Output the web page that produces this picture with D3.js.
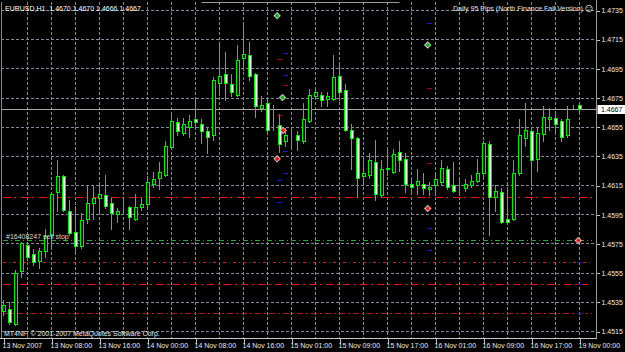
<!DOCTYPE html>
<html><head><meta charset="utf-8">
<script src="https://cdn.jsdelivr.net/npm/d3@7"></script>
<style>
html,body{margin:0;padding:0;background:#000;overflow:hidden}
svg{display:block}
text{font-family:"Liberation Sans",Arial,sans-serif;font-size:7px}
</style>
</head><body>
<svg id="c" width="625" height="352"></svg>
<script>
// ---------- data ----------
const symbolTitle = "EURUSD,H1  1.4670 1.4670 1.4666 1.4667";
const indicatorTitle = "Daily 95 Pips (North Finance Fall Version)";
const copyrightText = "MT4NF, \u00a9 2001-2007 MetaQuotes Software Corp.";
const orderLabel = "#16408247 sell stop";

const timeLabels = ["13 Nov 2007","13 Nov 08:00","13 Nov 16:00","14 Nov 00:00","14 Nov 08:00","14 Nov 16:00",
  "15 Nov 01:00","15 Nov 09:00","15 Nov 17:00","16 Nov 01:00","16 Nov 09:00","16 Nov 17:00","19 Nov 00:00"];
const timeLabelBars = [0,8,16,24,32,40,48,56,64,72,80,88,96];
const priceTicks = [1.4735,1.4715,1.4695,1.4675,1.4655,1.4635,1.4615,1.4595,1.4575,1.4555,1.4535,1.4515];

const opens  = [1.4529,1.4530,1.4520,1.4556,1.4574,1.4568,1.4563,1.4570,1.4581,1.4610,
  1.4621,1.4597,1.4583,1.4573,1.4592,1.4603,1.4606,1.4608,1.4603,1.4595,
  1.4598,1.4600,1.4592,1.4600,1.4602,1.4616,1.4620,1.4622,1.4641,1.4658,
  1.4651,1.4655,1.4660,1.4657,1.4652,1.4649,1.4685,1.4691,1.4684,1.4677,
  1.4702,1.4704,1.4691,1.4668,1.4671,1.4655,1.4656,1.4645,1.4650,1.4649,
  1.4645,1.4659,1.4676,1.4677,1.4674,1.4674,1.4690,1.4680,1.4653,1.4647,
  1.4621,1.4622,1.4631,1.4608,1.4626,1.4624,1.4638,1.4633,1.4616,1.4615,
  1.4616,1.4612,1.4615,1.4617,1.4626,1.4615,1.4612,1.4613,1.4615,1.4618,
  1.4623,1.4643,1.4607,1.4610,1.4592,1.4592,1.4623,1.4647,1.4652,1.4633,
  1.4650,1.4660,1.4661,1.4659,1.4649,1.4669,1.4670];
const highs  = [1.4536,1.4535,1.4557,1.4576,1.4576,1.4571,1.4572,1.4585,1.4610,1.4632,
  1.4622,1.4605,1.4601,1.4596,1.4615,1.4615,1.4616,1.4622,1.4606,1.4599,
  1.4607,1.4601,1.4609,1.4606,1.4621,1.4624,1.4631,1.4645,1.4664,1.4661,
  1.4661,1.4663,1.4673,1.4660,1.4655,1.4689,1.4713,1.4706,1.4691,1.4711,
  1.4725,1.4713,1.4692,1.4676,1.4673,1.4670,1.4664,1.4654,1.4654,1.4652,
  1.4671,1.4681,1.4681,1.4679,1.4679,1.4704,1.4697,1.4684,1.4657,1.4648,
  1.4633,1.4637,1.4646,1.4632,1.4641,1.4640,1.4645,1.4637,1.4620,1.4626,
  1.4623,1.4617,1.4623,1.4632,1.4628,1.4631,1.4620,1.4619,1.4622,1.4633,
  1.4645,1.4645,1.4615,1.4613,1.4613,1.4632,1.4660,1.4671,1.4655,1.4655,
  1.4669,1.4668,1.4666,1.4660,1.4669,1.4670,1.4670];
const lows   = [1.4526,1.4520,1.4519,1.4552,1.4564,1.4560,1.4558,1.4566,1.4572,1.4597,
  1.4597,1.4581,1.4570,1.4572,1.4589,1.4592,1.4597,1.4599,1.4585,1.4590,
  1.4597,1.4585,1.4591,1.4598,1.4600,1.4614,1.4612,1.4621,1.4640,1.4649,
  1.4649,1.4648,1.4655,1.4644,1.4637,1.4646,1.4677,1.4673,1.4676,1.4676,
  1.4694,1.4687,1.4662,1.4666,1.4652,1.4653,1.4638,1.4642,1.4641,1.4639,
  1.4644,1.4658,1.4675,1.4669,1.4669,1.4673,1.4673,1.4652,1.4626,1.4607,
  1.4616,1.4620,1.4605,1.4607,1.4622,1.4623,1.4625,1.4610,1.4609,1.4609,
  1.4609,1.4608,1.4608,1.4616,1.4612,1.4610,1.4608,1.4611,1.4614,1.4617,
  1.4620,1.4581,1.4597,1.4589,1.4589,1.4591,1.4622,1.4642,1.4617,1.4625,
  1.4645,1.4653,1.4650,1.4645,1.4648,1.4668,1.4666];
const closes = [1.4533,1.4521,1.4555,1.4575,1.4566,1.4562,1.4570,1.4580,1.4609,1.4621,
  1.4598,1.4582,1.4573,1.4591,1.4603,1.4606,1.4609,1.4601,1.4596,1.4597,
  1.4598,1.4593,1.4600,1.4602,1.4617,1.4619,1.4624,1.4642,1.4659,1.4652,
  1.4657,1.4659,1.4658,1.4652,1.4648,1.4687,1.4690,1.4685,1.4679,1.4701,
  1.4705,1.4690,1.4669,1.4670,1.4653,1.4655,1.4643,1.4649,1.4650,1.4646,
  1.4660,1.4677,1.4679,1.4673,1.4676,1.4689,1.4679,1.4653,1.4647,1.4620,
  1.4623,1.4632,1.4609,1.4626,1.4627,1.4636,1.4632,1.4616,1.4614,1.4618,
  1.4613,1.4614,1.4619,1.4627,1.4614,1.4611,1.4612,1.4616,1.4618,1.4623,
  1.4644,1.4607,1.4611,1.4590,1.4590,1.4623,1.4649,1.4653,1.4632,1.4651,
  1.4662,1.4662,1.4657,1.4648,1.4660,1.4669,1.4667];

const lastPrice = 1.4667;
// horizontal indicator levels (price)
const levelPrices = [1.46065, 1.4577, 1.4562, 1.45468, 1.4527];
// partial gray level near the top (bar range + price)
const topLinePrice = 1.47407, topLineFrom = 33, topLineTo = 66;
// trade arrows: bar position, price
const buyArrowBars = [45.6, 46.5, 70.7];
const buyArrowPrices = [1.4731, 1.4675, 1.4711];
const sellArrowBars = [46.6, 45.6, 70.7, 95.8];
const sellArrowPrices = [1.46525, 1.4633, 1.4599, 1.4577];
// short order-level marks
const blueMarkBars = [47,47,47,47,46,46,71,71,71,96,96,96];
const blueMarkPrices = [1.4705,1.4690,1.4638,1.4623,1.4618,1.4603,1.4726,1.4585,1.4570,1.4562,1.45468,1.4527];
const redMarkBars = [46,47,46,71,71];
const redMarkPrices = [1.4701,1.4683,1.4663,1.4681,1.4630];

// ---------- drawing ----------
const svg = d3.select("#c");
const W = 625, H = 352;
const pL = 1, pR = 596, pT = 2, pB = 338;
const x = d3.scaleLinear().domain([0, 96]).range([3.5, 579.5]);
const y = d3.scaleLinear().domain([1.4515, 1.4735]).range([331, 10]);
const py = v => Math.round(v) + 0.5;
const green = "#00f000";
const gridColor = "#7f8c99";

svg.append("rect").attr("width", W).attr("height", H).attr("fill", "#000");

// grid
const grid = svg.append("g");
priceTicks.forEach(p => {
  grid.append("line").attr("x1", pL).attr("x2", pR)
    .attr("y1", py(y(p))).attr("y2", py(y(p)))
    .attr("stroke", gridColor).attr("stroke-dasharray", "3,2");
});
d3.range(4, 97, 4).forEach(b => {
  grid.append("line").attr("x1", x(b)).attr("x2", x(b))
    .attr("y1", pT).attr("y2", pB)
    .attr("stroke", gridColor).attr("stroke-dasharray", "3,2");
});

// level lines, dashes drawn as pixel segments following a pattern
const levelStyles = [
  {c:"#ff1010", pat:[8,3,2,5]},
  {c:"#22b022", pat:[5,3,1,3]},
  {c:"#ff1010", pat:[3,3,1,3]},
  {c:"#ff1010", pat:[7,4,2,4]},
  {c:"#b01c1c", pat:[6,3,2,3]}
];
const lv = svg.append("g").attr("shape-rendering", "crispEdges");
levelPrices.forEach((p, i) => {
  const st = levelStyles[i];
  const yy = Math.floor(y(p));
  const segs = [];
  let xx = pL + 2, k = 0;
  while (xx < pR - 4) {
    const len = st.pat[k % st.pat.length];
    if (k % 2 === 0) segs.push([xx, Math.min(len, pR - 4 - xx)]);
    xx += len; k++;
  }
  lv.selectAll(null).data(segs).join("rect")
    .attr("x", d => d[0]).attr("y", yy).attr("width", d => d[1]).attr("height", 1)
    .attr("fill", st.c);
});

// top partial gray line
svg.append("line")
  .attr("x1", x(topLineFrom)).attr("x2", x(topLineTo))
  .attr("y1", py(y(topLinePrice))).attr("y2", py(y(topLinePrice)))
  .attr("stroke", "#9a9a9a");

// current price line
svg.append("line")
  .attr("x1", pL).attr("x2", pR)
  .attr("y1", py(y(lastPrice))).attr("y2", py(y(lastPrice)))
  .attr("stroke", "#a8a8a8");

// candles
const candles = opens.map((o, i) => ({i, o, h: highs[i], l: lows[i], c: closes[i]}));
const cg = svg.append("g").attr("shape-rendering", "crispEdges");
cg.selectAll("line.wick").data(candles).join("line").attr("class", "wick")
  .attr("x1", d => x(d.i)).attr("x2", d => x(d.i))
  .attr("y1", d => py(y(d.h)) - 0.5).attr("y2", d => py(y(d.l)) + 0.5)
  .attr("stroke", green);
cg.selectAll("rect.body").data(candles).join("rect").attr("class", "body")
  .attr("x", d => x(d.i) - 1)
  .attr("width", 3)
  .attr("y", d => py(y(Math.max(d.o, d.c))))
  .attr("height", d => py(y(Math.min(d.o, d.c))) - py(y(Math.max(d.o, d.c))))
  .attr("fill", d => d.c < d.o ? "#ffffff" : "#000000")
  .attr("stroke", green).attr("stroke-width", 1);

// short order marks
const mk = svg.append("g").attr("shape-rendering", "crispEdges");
blueMarkBars.forEach((b, i) => {
  mk.append("rect").attr("x", x(b) - 2.5).attr("width", 5)
    .attr("y", Math.floor(y(blueMarkPrices[i]))).attr("height", 1)
    .attr("fill", "#1414e6");
});
redMarkBars.forEach((b, i) => {
  mk.append("rect").attr("x", x(b) - 2.5).attr("width", 5)
    .attr("y", Math.floor(y(redMarkPrices[i]))).attr("height", 1)
    .attr("fill", "#b40000");
});

// trade arrows
function arrows(bars, prices, col) {
  const g = svg.append("g");
  bars.forEach((b, i) => {
    const cx = x(b), cy = y(prices[i]);
    g.append("path").attr("d", `M${cx},${cy-3.5}L${cx+3.5},${cy}L${cx},${cy+3.5}L${cx-3.5},${cy}Z`)
      .attr("fill", "#e6e6e6").attr("stroke", "#9a9a9a").attr("stroke-width", 0.6);
    g.append("rect").attr("x", cx - 2).attr("y", cy - 1).attr("width", 4).attr("height", 2).attr("fill", col);
    g.append("rect").attr("x", cx - 1).attr("y", cy - 2).attr("width", 2).attr("height", 4).attr("fill", col);
  });
}
arrows(buyArrowBars, buyArrowPrices, "#10b010");
arrows(sellArrowBars, sellArrowPrices, "#ff1010");

// borders
const bd = svg.append("g").attr("shape-rendering", "crispEdges");
bd.append("line").attr("x1", pL + 0.5).attr("x2", pL + 0.5).attr("y1", pT).attr("y2", pB).attr("stroke", "#8a8a8a");
bd.append("line").attr("x1", pR + 0.5).attr("x2", pR + 0.5).attr("y1", 0).attr("y2", pB + 1).attr("stroke", "#9a9a9a");
bd.append("line").attr("x1", 0).attr("x2", pR + 1).attr("y1", pB + 0.5).attr("y2", pB + 0.5).attr("stroke", "#c8c8c8");

// price axis
const yAxis = d3.axisRight(y).tickValues(priceTicks).tickFormat(d3.format(".4f")).tickSize(3).tickPadding(2);
const ya = svg.append("g").attr("transform", `translate(${pR + 0.5},0.5)`).call(yAxis);
ya.select(".domain").remove();
ya.selectAll("line").attr("stroke", "#c0c0c0").attr("shape-rendering", "crispEdges");
ya.selectAll("text").attr("fill", "#ececec").style("font-size", "7px").attr("font-family", null);

// current price box
const lpY = py(y(lastPrice));
svg.append("rect").attr("x", pR + 1.5).attr("y", lpY - 4.5).attr("width", W - pR - 1.5).attr("height", 9)
  .attr("fill", "#ffffff");
svg.append("text").attr("x", 601).attr("y", lpY + 2.5).attr("fill", "#000").text(d3.format(".4f")(lastPrice));

// time axis
const xAxis = d3.axisBottom(x).tickValues(timeLabelBars).tickFormat((d, i) => timeLabels[i]).tickSize(5).tickPadding(1);
const xa = svg.append("g").attr("transform", `translate(0,${pB + 0.5})`).call(xAxis);
xa.select(".domain").remove();
xa.selectAll("line").attr("stroke", "#c0c0c0").attr("shape-rendering", "crispEdges");
xa.selectAll("text").attr("fill", "#ececec").attr("text-anchor", "start").attr("dx", "-1.5")
  .style("font-size", "7px").attr("font-family", null);
xa.selectAll(".tick text").attr("y", 5).attr("dy", "0.71em");

// texts
svg.append("text").attr("x", 5).attr("y", 10.5).attr("fill", "#ffffff").style("white-space", "pre")
  .attr("xml:space", "preserve").text(symbolTitle);
svg.append("text").attr("x", 453).attr("y", 10.5).attr("fill", "#e6e6e6").text(indicatorTitle);
// smiley
const sm = svg.append("g").attr("transform", "translate(589,8.5)");
sm.append("circle").attr("r", 3.3).attr("fill", "none").attr("stroke", "#c8c8c8").attr("stroke-width", 0.9);
sm.append("circle").attr("cx", -1.2).attr("cy", -1).attr("r", 0.5).attr("fill", "#c8c8c8");
sm.append("circle").attr("cx", 1.2).attr("cy", -1).attr("r", 0.5).attr("fill", "#c8c8c8");
sm.append("path").attr("d", "M-1.6,1 Q0,2.4 1.6,1").attr("fill", "none").attr("stroke", "#c8c8c8").attr("stroke-width", 0.7);

svg.append("text").attr("x", 6).attr("y", 238.5).attr("fill", "#dcdcdc").text(orderLabel);
svg.append("text").attr("x", 4).attr("y", 336).attr("fill", "#ececec").text(copyrightText);
</script>
</body></html>
